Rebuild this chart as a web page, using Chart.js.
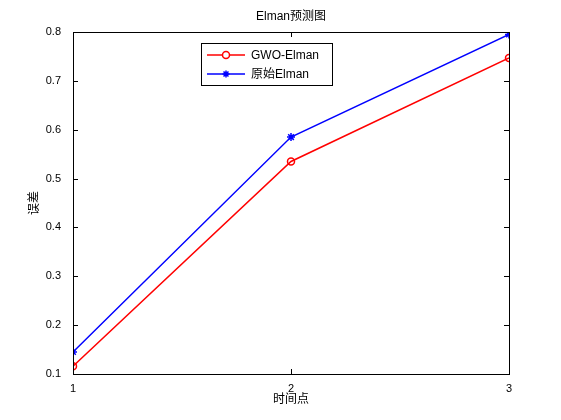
<!DOCTYPE html>
<html><head><meta charset="utf-8">
<script src="https://cdn.jsdelivr.net/npm/chart.js@4"></script>
<style>body{margin:0;background:#fff}#w{width:561px;height:420px}</style>
</head><body><div id="w"><canvas id="c"></canvas></div>
<script>
const categories = [1, 2, 3];
const gwoElman = [0.116, 0.535, 0.747];
const origElman = [0.145, 0.585, 0.795];
const yTicks = [0.1, 0.2, 0.3, 0.4, 0.5, 0.6, 0.7, 0.8];
const FONT = "'Liberation Sans', 'Noto Sans CJK SC', sans-serif";

const deco = {
  id: 'deco',
  afterDraw(chart) {
    const {ctx, chartArea: a, scales: {x, y}} = chart;
    ctx.save();
    ctx.strokeStyle = '#000'; ctx.lineWidth = 1;
    ctx.strokeRect(a.left + 0.5, a.top + 0.5, a.right - a.left, a.bottom - a.top);
    ctx.beginPath();
    yTicks.forEach(v => { const p = Math.round(y.getPixelForValue(v)) + 0.5;
      ctx.moveTo(a.left, p); ctx.lineTo(a.left + 5, p); ctx.moveTo(a.right, p); ctx.lineTo(a.right - 5, p); });
    categories.forEach(v => { const p = Math.round(x.getPixelForValue(v)) + 0.5;
      ctx.moveTo(p, a.bottom); ctx.lineTo(p, a.bottom - 5); ctx.moveTo(p, a.top); ctx.lineTo(p, a.top + 5); });
    ctx.stroke();
    ctx.fillStyle = '#000';
    ctx.font = '12px ' + FONT; ctx.textAlign = 'center'; ctx.textBaseline = 'middle';
    ctx.fillText('Elman预测图', (a.left + a.right) / 2, 17);
    ctx.fillText('时间点', (a.left + a.right) / 2, 400);
    ctx.translate(35, (a.top + a.bottom) / 2); ctx.rotate(-Math.PI / 2);
    ctx.fillText('误差', 0, 0);
    ctx.restore();
    // legend
    ctx.save();
    const lx = 201, ly = 43, lw = 131, lh = 42;
    ctx.fillStyle = '#fff'; ctx.fillRect(lx, ly, lw, lh);
    ctx.strokeStyle = '#000'; ctx.lineWidth = 1; ctx.strokeRect(lx + 0.5, ly + 0.5, lw, lh);
    chart.data.datasets.forEach((ds, i) => {
      const cy = ly + 12 + i * 19;
      ctx.strokeStyle = ds.borderColor; ctx.lineWidth = 1.5;
      ctx.beginPath(); ctx.moveTo(lx + 6, cy); ctx.lineTo(lx + 44, cy); ctx.stroke();
      Chart.helpers.drawPoint(ctx, {pointStyle: ds.pointStyle, radius: 3.5, borderWidth: 1.5}, lx + 25, cy);
      ctx.fillStyle = '#000'; ctx.font = '12px ' + FONT; ctx.textBaseline = 'middle'; ctx.textAlign = 'left';
      ctx.fillText(ds.label, lx + 50, cy + 1);
    });
    ctx.restore();
  }
};

new Chart(document.getElementById('c'), {
  type: 'line',
  data: { datasets: [
    { label: 'GWO-Elman', data: categories.map((c, i) => ({x: c, y: gwoElman[i]})), borderColor: '#ff0000',
      backgroundColor: 'transparent', pointStyle: 'circle', pointRadius: 3.5, pointBorderWidth: 1.5, borderWidth: 1.5,
      pointBorderColor: '#ff0000', pointBackgroundColor: 'transparent' },
    { label: '原始Elman', data: categories.map((c, i) => ({x: c, y: origElman[i]})), borderColor: '#0000ff',
      backgroundColor: 'transparent', pointStyle: 'star', pointRadius: 4, pointBorderWidth: 1.5, borderWidth: 1.5,
      pointBorderColor: '#0000ff' }
  ]},
  options: {
    responsive: true, maintainAspectRatio: false, animation: false,
    layout: { padding: { top: 32, right: 52, left: 0, bottom: 0 } },
    plugins: { legend: { display: false }, tooltip: { enabled: false } },
    scales: {
      x: { type: 'linear', min: 1, max: 3, afterFit: s => { s.height = 46; },
        afterBuildTicks: s => { s.ticks = categories.map(v => ({value: v})); },
        grid: { display: false }, border: { display: false },
        ticks: { color: '#000', font: { size: 11, family: FONT }, padding: 0 } },
      y: { min: 0.1, max: 0.8, afterFit: s => { s.width = 73; },
        afterBuildTicks: s => { s.ticks = yTicks.map(v => ({value: v})); },
        grid: { display: false }, border: { display: false },
        ticks: { color: '#000', font: { size: 11, family: FONT }, padding: 4, callback: v => String(v) } }
    }
  },
  plugins: [deco]
});
</script></body></html>
